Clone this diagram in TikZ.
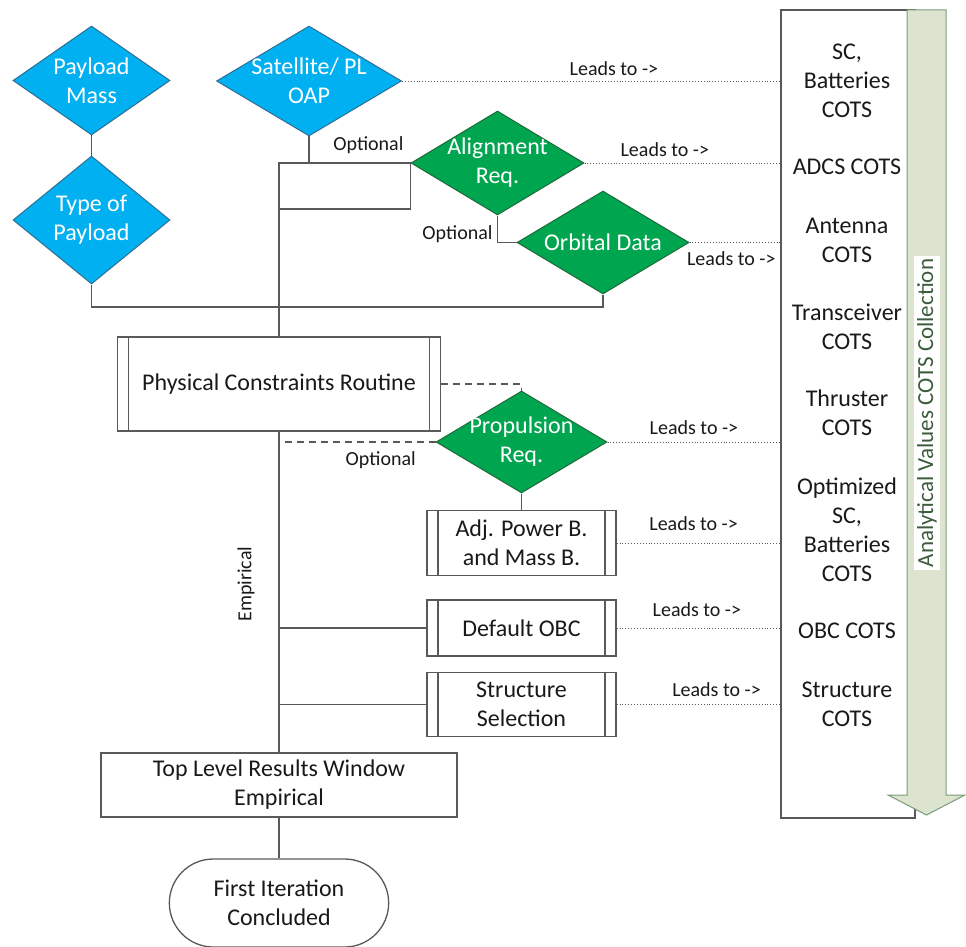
\documentclass[tikz,border=0pt]{standalone}
\usepackage{fontspec}
\setmainfont{Carlito}
\usetikzlibrary{positioning,shapes.geometric,shapes.misc,calc}

\definecolor{plblue}{HTML}{00B0F0}
\definecolor{pledge}{HTML}{2F6F95}
\definecolor{optgreen}{HTML}{00A550}
\definecolor{optedge}{HTML}{1F6B3A}
\definecolor{wiregray}{HTML}{595959}
\definecolor{barfill}{HTML}{DCE3CE}
\definecolor{baredge}{HTML}{7B9B7B}
\definecolor{bartext}{HTML}{3C5C3C}

\tikzset{
  base/.style={font=\fontsize{24}{29}\selectfont, align=center, text=black!90},
  small/.style={font=\fontsize{20}{24}\selectfont, text=black!90},
  link/.style={draw=wiregray, line width=1.3pt},
  leads/.style={draw=wiregray, dotted, line width=0.9pt},
  optlink/.style={draw=wiregray, dash pattern=on 7pt off 5pt, line width=1.1pt},
  inputd/.style={diamond, draw=pledge, fill=plblue, line width=1pt, inner sep=0pt},
  optd/.style={diamond, draw=optedge, fill=optgreen, line width=1pt, inner sep=0pt},
  intext/.style={base, text=white},
  subproc/.style={rectangle, base, draw=wiregray, line width=1.3pt,
    path picture={
      \draw[link] ([xshift=11pt]path picture bounding box.north west) -- ([xshift=11pt]path picture bounding box.south west)
                  ([xshift=-11pt]path picture bounding box.north east) -- ([xshift=-11pt]path picture bounding box.south east);}},
  procbox/.style={rectangle, base, draw=wiregray, line width=1.3pt},
  cots/.style={base}
}

\begin{document}
\begin{tikzpicture}[x=1pt,y=-1pt]
  \useasboundingbox (0,0) rectangle (966,947);

  % inputs
  \node[inputd, minimum width=157pt, minimum height=109pt,
        label={[intext]center:Payload\\Mass}] (pmass) at (91.5,80.5) {};
  \node[inputd, minimum width=157pt, minimum height=128pt,
        label={[intext]center:Type of\\Payload}] (ptype) [below=20pt of pmass] {};
  \node[inputd, minimum width=185pt, minimum height=110pt,
        label={[intext]center:Satellite/ PL\\OAP}] (oap) at (309,81) {};

  % optional inputs
  \node[optd, minimum width=173pt, minimum height=104pt,
        label={[intext]center:Alignment\\Req.}] (align) at (497.5,163) {};
  \node[optd, minimum width=172pt, minimum height=103pt,
        label={[intext]center:Orbital Data}] (orbit) at (603,242.5) {};
  \node[optd, minimum width=171pt, minimum height=102pt,
        label={[intext]center:Propulsion\\Req.}] (prop) at (521.5,442) {};

  % routines
  \node[subproc, minimum width=323pt, minimum height=94pt] (phys) at (279,384) {Physical Constraints Routine};
  \node[subproc, minimum width=189pt, minimum height=65pt] (adj) at (521.5,543) {Adj. Power B.\\and Mass B.};
  \node[subproc, minimum width=189pt, minimum height=56pt] (obc) at (521.5,628) {Default OBC};
  \node[subproc, minimum width=189pt, minimum height=64pt] (struct) at (521.5,704.5) {Structure\\Selection};
  \node[procbox, minimum width=356pt, minimum height=64pt] (top) at (279,785) {Top Level Results Window\\Empirical};
  \node[rounded rectangle, base, draw=wiregray, line width=1.3pt,
        minimum width=226pt, minimum height=88pt] (done) at (279,903) {First Iteration\\Concluded};

  % COTS collection
  \node[draw=wiregray, line width=1.3pt, minimum width=134pt, minimum height=808pt] (cotsbox) at (848,414) {};
  \node[cots] (c1) at (847,81) {SC,\\Batteries\\COTS};
  \node[cots] (c2) at (847,167) {ADCS COTS};
  \node[cots] (c3) at (847,240) {Antenna\\COTS};
  \node[cots] (c4) at (847,327) {Transceiver\\COTS};
  \node[cots] (c5) at (847,413) {Thruster\\COTS};
  \node[cots] (c6) at (847,530) {Optimized\\SC,\\Batteries\\COTS};
  \node[cots] (c7) at (847,631) {OBC COTS};
  \node[cots] (c8) at (847,704) {Structure\\COTS};

  \draw[draw=baredge, fill=barfill, line width=1pt]
    (907,10) -- (946,10) -- (946,795) -- (965,795) -- (926.5,815) -- (888,795) -- (907,795) -- cycle;
  \node[rotate=90, fill=white, inner sep=3pt, font=\fontsize{23}{28}\selectfont, text=bartext] (bartxt) at (927,413) {Analytical Values COTS Collection};

  % wiring
  \draw[link] (pmass.south) -- (ptype.north);
  \coordinate (busr) at (603,307);
  \draw[link] (ptype.south) |- (busr) -- (orbit.south);
  \draw[link] (oap.south) -- (oap.south |- align.west);
  \coordinate (loopb) at (279,209);
  \draw[link] (align.west) -| (phys.north) node[pos=0.16, above=5pt, small] {Optional};
  \draw[link] (align.west) |- (loopb);
  \draw[link] (align.south) |- (orbit.west) node[pos=0.35, left=1pt, small] {Optional};
  \draw[optlink] (phys.east) -| (prop.north);
  \draw[optlink] (prop.west) -- (prop.west -| phys.south) node[pos=0.35, below=6pt, small] {Optional};
  \draw[link] (prop.south) -- (adj.north);
  \draw[link] (phys.south) -- (top.north);
  \draw[link] (obc.west) -- (obc.west -| phys.south);
  \draw[link] (struct.west) -- (struct.west -| phys.south);
  \draw[link] (top.south) -- (done.north);
  \node[small, rotate=90] (emp) at (246,584) {Empirical};

  % leads
  \draw[leads] (oap.east) -- (oap.east -| cotsbox.west) node[pos=0.56, above=2pt, small] {Leads to ->};
  \draw[leads] (align.east) -- (align.east -| cotsbox.west) node[pos=0.41, above=3pt, small] {Leads to ->};
  \draw[leads] (orbit.east) -- (orbit.east -| cotsbox.west) node[pos=0.46, below=5pt, small] {Leads to ->};
  \draw[leads] (prop.east) -- (prop.east -| cotsbox.west) node[pos=0.5, above=4pt, small] {Leads to ->};
  \draw[leads] (adj.east) -- (adj.east -| cotsbox.west) node[pos=0.47, above=9pt, small] {Leads to ->};
  \draw[leads] (obc.east) -- (obc.east -| cotsbox.west) node[pos=0.49, above=8pt, small] {Leads to ->};
  \draw[leads] (struct.east) -- (struct.east -| cotsbox.west) node[pos=0.61, above=4pt, small] {Leads to ->};
\end{tikzpicture}
\end{document}
